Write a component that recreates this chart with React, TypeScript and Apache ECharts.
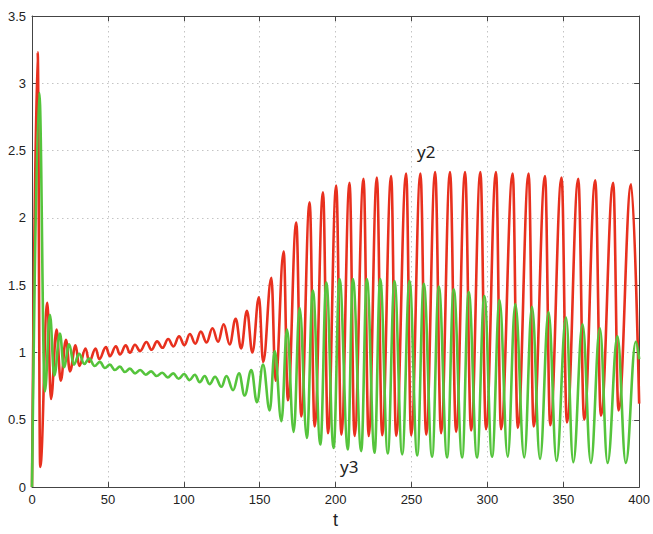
import React, { useEffect, useRef } from "react";
import * as echarts from "echarts";

// y2 (red): times and values of the curve's turning points
const y2T = [
  0, 3.75, 5.4, 10.1, 12.5, 16.2, 18.9, 22.4, 25, 28.7, 31.1, 35.3, 37.7, 41.9, 44.3, 48.7, 51.3, 55.3, 57.9,
  61.8, 64.5, 67.8, 71.2, 75.4, 78.8, 82.4, 86, 89.7, 93.2, 96.9, 100.4, 104, 107.6, 111.2, 115, 118.9, 122.6,
  126.3, 130.2, 134.2, 137.8, 141.6, 145.2, 149.5, 152.3, 157.7, 160.5, 165.8, 168.6, 174.1, 177.4, 182.9,
  186.2, 191.7, 195, 200.4, 203.8, 209.2, 212.5, 218.4, 221.8, 227.2, 230.7, 236.6, 239.9, 246.5, 249.8,
  255.9, 259.7, 265.6, 269.5, 275.4, 279.4, 285.3, 289.3, 295.4, 299.1, 305.7, 309, 316.7, 320, 327.2, 330.5,
  338, 341.4, 348.9, 352.4, 359.9, 363.8, 371.1, 374.8, 382.9, 386.4, 394.7, 400,
];
const y2V = [
  0, 3.23, 0.15, 1.37, 0.655, 1.17, 0.79, 1.095, 0.86, 1.053, 0.9, 1.03, 0.93, 1.03, 0.95, 1.04, 0.973, 1.046, 0.985,
  1.053, 0.998, 1.058, 1.01, 1.078, 1.02, 1.083, 1.035, 1.1, 1.045, 1.12, 1.055, 1.137, 1.065, 1.155, 1.075, 1.18, 1.08,
  1.21, 1.06, 1.25, 1.03, 1.31, 1.0, 1.41, 0.93, 1.555, 0.79, 1.75, 0.645, 1.965, 0.525, 2.115,
  0.45, 2.19, 0.4, 2.24, 0.39, 2.26, 0.38, 2.29, 0.38, 2.3, 0.385, 2.31, 0.38, 2.33, 0.385,
  2.33, 0.39, 2.34, 0.4, 2.34, 0.41, 2.34, 0.42, 2.34, 0.43, 2.34, 0.43, 2.33, 0.44, 2.33, 0.45,
  2.31, 0.46, 2.3, 0.48, 2.29, 0.5, 2.28, 0.53, 2.26, 0.57, 2.25, 0.62,
];

// y3 (green): times and values of the curve's turning points
const y3T = [
  0, 4.8, 8.5, 11.8, 14.7, 18.4, 21, 24.5, 27.6, 31.1, 34.4, 37.7, 41.2, 44.7, 48, 51.3, 54.6, 57.9, 61.2, 64.5,
  67.9, 71.3, 74.9, 78.5, 82.1, 85.8, 89.4, 93, 96.6, 100.2, 103.8, 107.3, 110.5, 113.8, 117, 120.6, 124.8,
  128.1, 132.5, 136.4, 140.1, 144.5, 148.2, 152.2, 156.6, 159.9, 164.3, 168, 172.4, 176.3, 181.1, 185, 190,
  193.9, 198.7, 202.6, 208.1, 211.4, 216.9, 220.6, 225.7, 229.4, 234.4, 238.8, 243.9, 248.7, 253.8, 258.1,
  263.6, 268, 273.5, 277.8, 283.4, 287.7, 293.2, 298, 303.1, 308, 313.4, 318.4, 324.3, 329.4, 334.7, 340.3,
  345.6, 351.8, 356.6, 362.7, 368.2, 374.1, 379.2, 385.7, 391.2, 397.8, 400,
];
const y3V = [
  0, 2.93, 0.71, 1.28, 0.83, 1.14, 0.89, 1.06, 0.91, 0.99, 0.915, 0.955, 0.9, 0.93, 0.885, 0.91, 0.87, 0.895, 0.855, 0.88,
  0.845, 0.87, 0.835, 0.86, 0.825, 0.85, 0.815, 0.845, 0.805, 0.84, 0.795, 0.835, 0.78, 0.825, 0.765, 0.82, 0.745,
  0.825, 0.72, 0.845, 0.68, 0.87, 0.63, 0.91, 0.57, 1.01, 0.49, 1.17, 0.41, 1.33, 0.365, 1.46, 0.316,
  1.52, 0.29, 1.545, 0.28, 1.545, 0.267, 1.545, 0.255, 1.545, 0.25, 1.53, 0.243, 1.53, 0.235, 1.51,
  0.225, 1.49, 0.22, 1.47, 0.22, 1.45, 0.22, 1.42, 0.225, 1.39, 0.225, 1.36, 0.22, 1.34, 0.21, 1.3,
  0.195, 1.26, 0.185, 1.21, 0.18, 1.18, 0.18, 1.12, 0.18, 1.08, 0.95,
];

const xTickLabels = ["0", "50", "100", "150", "200", "250", "300", "350", "400"];
const yTickLabels = ["0", "0.5", "1", "1.5", "2", "2.5", "3", "3.5"];
const curveLabels = ["y2", "y3"];
const axisName = "t";

const FONT = "Liberation Sans, Arial, Helvetica, sans-serif";

export default function App() {
  const ref = useRef<HTMLDivElement>(null);
  useEffect(() => {
    if (!ref.current) return;
    const chart = echarts.init(ref.current, undefined, { renderer: "svg" });
    const pair = (t: number[], v: number[]) => t.map((x, i) => [x, v[i]]);
    const axisColor = "#444";
    const split = { show: true, lineStyle: { color: "#c4c4c4", type: [1.5, 3.5] as any, width: 1 } };
    const baseX = { type: "value" as const, min: 0, max: 400, interval: 50 };
    const baseY = { type: "value" as const, min: 0, max: 3.5, interval: 0.5 };
    const line = { show: true, onZero: false, lineStyle: { color: axisColor, width: 1 } };
    const tick = { show: true, inside: true, length: 5, lineStyle: { color: axisColor } };
    chart.setOption({
      animation: false,
      backgroundColor: "#fff",
      grid: { left: 32, right: 13, top: 16, bottom: 39, containLabel: false },
      xAxis: [
        {
          ...baseX,
          position: "bottom",
          axisLine: line,
          axisTick: tick,
          axisLabel: {
            color: "#222",
            fontSize: 13,
            fontFamily: FONT,
            margin: 6,
            formatter: (v: number) => xTickLabels[Math.round(v / 50)] ?? "",
          },
          splitLine: split,
          name: axisName,
          nameLocation: "middle",
          nameGap: 23,
          nameTextStyle: { fontSize: 18, color: "#222", fontFamily: FONT },
        },
        {
          ...baseX,
          position: "top",
          axisLine: line,
          axisTick: tick,
          axisLabel: { show: false },
          splitLine: { show: false },
        },
      ],
      yAxis: [
        {
          ...baseY,
          position: "left",
          axisLine: line,
          axisTick: tick,
          axisLabel: {
            color: "#222",
            fontSize: 13,
            fontFamily: FONT,
            margin: 6,
            formatter: (v: number) => yTickLabels[Math.round(v / 0.5)] ?? "",
          },
          splitLine: split,
        },
        {
          ...baseY,
          position: "right",
          axisLine: line,
          axisTick: tick,
          axisLabel: { show: false },
          splitLine: { show: false },
        },
      ],
      series: [
        {
          name: curveLabels[0],
          type: "line",
          xAxisIndex: 0,
          yAxisIndex: 0,
          data: pair(y2T, y2V),
          smooth: 0.4,
          smoothMonotone: "x",
          showSymbol: false,
          lineStyle: { color: "#e8301e", width: 2.6 },
          itemStyle: { color: "#e8301e" },
          z: 2,
        },
        {
          name: curveLabels[1],
          type: "line",
          xAxisIndex: 0,
          yAxisIndex: 0,
          data: pair(y3T, y3V),
          smooth: 0.4,
          smoothMonotone: "x",
          showSymbol: false,
          lineStyle: { color: "#55c43c", width: 2.6 },
          itemStyle: { color: "#55c43c" },
          z: 3,
        },
      ],
      graphic: [
        {
          type: "text",
          left: 417,
          top: 143,
          style: { text: curveLabels[0], fontSize: 17, fontFamily: "Noto Sans, DejaVu Sans, sans-serif", fill: "#222" },
          z: 10,
        },
        {
          type: "text",
          left: 340,
          top: 458,
          style: { text: curveLabels[1], fontSize: 17, fontFamily: "Noto Sans, DejaVu Sans, sans-serif", fill: "#222" },
          z: 10,
        },
      ],
    });
    return () => chart.dispose();
  }, []);
  return (
    <div
      ref={ref}
      style={{ position: "fixed", left: 0, top: 0, width: 653, height: 534, background: "#fff" }}
    />
  );
}
